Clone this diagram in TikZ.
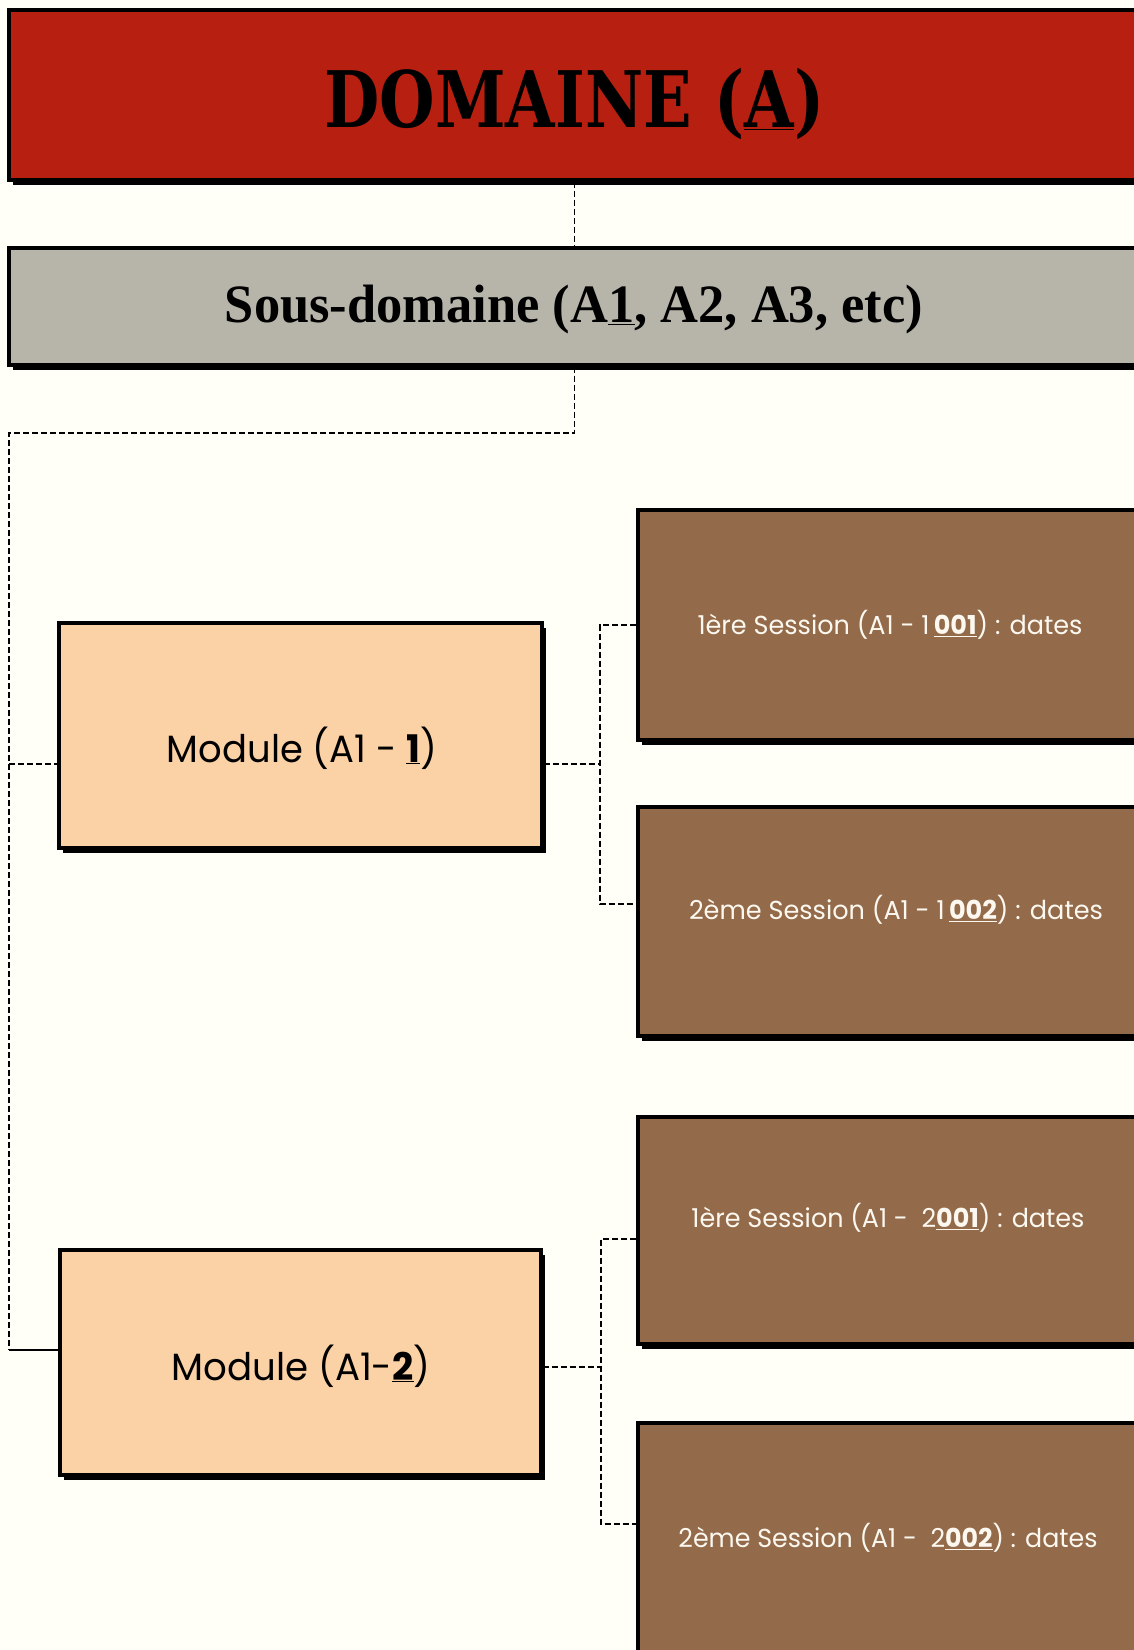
\documentclass[tikz,border=0pt]{standalone}
\usepackage{fontspec}
\usepackage{graphicx}
\usetikzlibrary{shadows}
\newfontfamily\titlefont{DejaVu Serif}
\newfontfamily\subfont{Liberation Serif}
\newfontfamily\popfont{Poppins}
\definecolor{bg}{RGB}{255,254,247}
\definecolor{titlered}{RGB}{183,31,17}
\definecolor{subgray}{RGB}{183,181,170}
\definecolor{modpeach}{RGB}{251,210,165}
\definecolor{sessbrown}{RGB}{147,107,74}
\definecolor{sesstext}{RGB}{252,248,240}
\newcommand{\fitw}[2]{\resizebox{#1}{\height}{#2}}
\newcommand{\ubf}[1]{\underline{\textbf{#1}}}
\begin{document}
\begin{tikzpicture}[x=1pt,y=-1pt,
  box/.style={draw=black, line width=3.2pt, inner sep=0pt,
    drop shadow={shadow xshift=3.5pt, shadow yshift=-5pt, opacity=1, fill=black}},
  conn/.style={line width=1.6pt, dash pattern=on 6pt off 3pt},
  plain/.style={line width=1.6pt},
  modtext/.style={inner sep=0pt, text=black, font=\popfont\fontsize{38}{38}\selectfont},
  sesstext/.style={inner sep=0pt, text=sesstext, font=\popfont\fontsize{26}{26}\selectfont}]
\path[use as bounding box, fill=bg] (0,0) rectangle (1134,1650);
\clip (0,0) rectangle (1134,1650);

% boxes
\node[box, fill=titlered, minimum width=1131pt, minimum height=170pt] (dom) at (574.5,95) {};
\node[inner sep=0pt] (domtxt) at (574.5,104) {\fitw{500pt}{\titlefont\bfseries\fontsize{78}{78}\selectfont DOMAINE (\ubf{A})}};

\node[box, fill=subgray, minimum width=1131pt, minimum height=117pt] (sub) at (574.5,306.5) {};
\node[inner sep=0pt] (subtxt) at (574,310) {\fitw{698pt}{\subfont\bfseries\fontsize{54}{54}\selectfont Sous-domaine (A\ubf{1}, A2, A3, etc)}};

\node[box, fill=modpeach, minimum width=483pt, minimum height=225pt] (m1) at (300.5,735.5) {};
\node[modtext] (m1txt) at (302,748) {\fitw{270pt}{Module (A1 - \ubf{1})}};

\node[box, fill=modpeach, minimum width=481pt, minimum height=225pt] (m2) at (300.5,1362.5) {};
\node[modtext] (m2txt) at (301,1366) {\fitw{259pt}{Module (A1-\ubf{2})}};

\node[box, fill=sessbrown, minimum width=502pt, minimum height=230pt] (s1) at (889,625) {};
\node[sesstext] (s1txt) at (890,625) {\fitw{385pt}{1ère Session (A1 - 1\,\ubf{001}) : dates}};

\node[box, fill=sessbrown, minimum width=502pt, minimum height=229pt] (s2) at (889,921.5) {};
\node[sesstext] (s2txt) at (896,910) {\fitw{414pt}{2ème Session (A1 - 1\,\ubf{002}) : dates}};

\node[box, fill=sessbrown, minimum width=502pt, minimum height=227pt] (s3) at (889,1230.5) {};
\node[sesstext] (s3txt) at (888,1218) {\fitw{393pt}{1ère Session (A1 -\ \ 2\ubf{001}) : dates}};

\node[box, fill=sessbrown, minimum width=502pt, minimum height=232pt] (s4) at (889,1539) {};
\node[sesstext] (s4txt) at (888,1538) {\fitw{419pt}{2ème Session (A1 -\ \ 2\ubf{002}) : dates}};

% connectors
\coordinate (bus) at (9,433);
\coordinate (j1) at (9,764);
\coordinate (j2) at (9,1350);
\draw[conn] (dom.south) -- (sub.north);
\draw[conn] (sub.south) |- (bus) -- (j2);
\draw[conn] (j1) -- (j1 -| m1.west);
\draw[plain] (j2) -- (j2 -| m2.west);

\coordinate (k1) at (600,764);
\coordinate (k1a) at (600,625);
\coordinate (k1b) at (600,904);
\draw[conn] (k1 -| m1.east) -- (k1);
\draw[conn] (s1.west |- k1a) -- (k1a) -- (k1b) -- (k1b -| s2.west);

\coordinate (k2) at (601,1367);
\coordinate (k2a) at (601,1239);
\coordinate (k2b) at (601,1524);
\draw[conn] (k2 -| m2.east) -- (k2);
\draw[conn] (s3.west |- k2a) -- (k2a) -- (k2b) -- (k2b -| s4.west);
\end{tikzpicture}
\end{document}
